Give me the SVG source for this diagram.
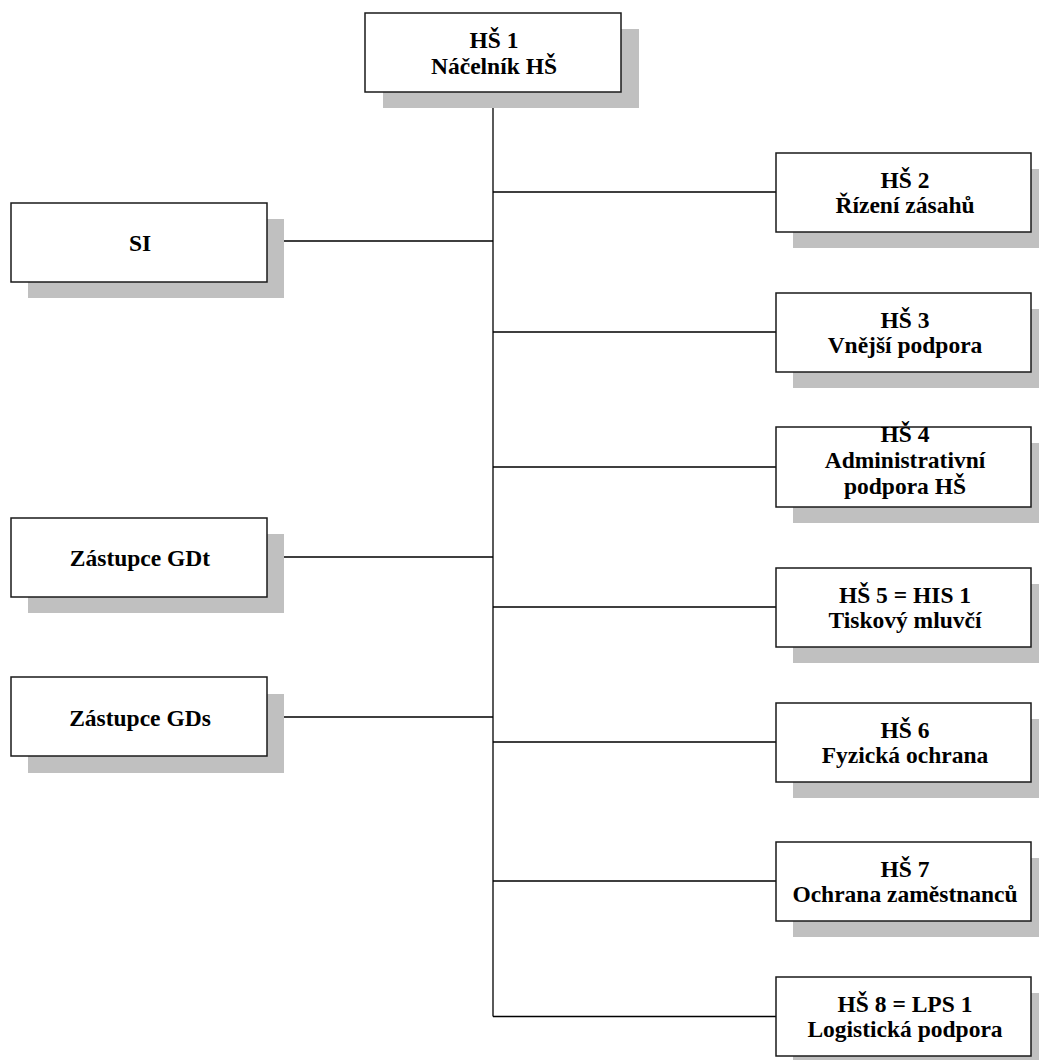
<svg xmlns="http://www.w3.org/2000/svg" width="1039" height="1060" viewBox="0 0 1039 1060">
<style>
.sh{fill:#c0c0c0;stroke:none}
.bx{fill:#fff;stroke:#1a1a1a;stroke-width:1.5}
.cn{stroke:#000;stroke-width:1.3;fill:none}
text{font-family:"Liberation Serif","Times New Roman",serif;font-weight:bold;font-size:23.5px;fill:#000;text-anchor:middle}
</style>
<rect width="1039" height="1060" fill="#fff"/>
<g id="connectors">
<path class="cn" d="M493,92V1016.5"/>
<path class="cn" d="M493,192H776M493,332H776M493,467H776M493,607H776M493,742H776M493,881H776M493,1016.5H776"/>
<path class="cn" d="M267,241H493M267,557H493M267,717H493"/>
</g>
<g id="hs1">
<rect class="sh" x="383" y="29" width="256" height="79"/>
<rect class="bx" x="365" y="13" width="256" height="79"/>
<text x="494" y="48">HŠ 1</text><text x="494" y="74">Náčelník HŠ</text>
</g>
<g id="si">
<rect class="sh" x="28" y="219" width="256" height="79"/>
<rect class="bx" x="11" y="203" width="256" height="79"/>
<text x="140" y="251">SI</text>
</g>
<g id="gdt">
<rect class="sh" x="28" y="534" width="256" height="79"/>
<rect class="bx" x="11" y="518" width="256" height="79"/>
<text x="140" y="566">Zástupce GDt</text>
</g>
<g id="gds">
<rect class="sh" x="28" y="694" width="256" height="79"/>
<rect class="bx" x="11" y="677" width="256" height="79"/>
<text x="140" y="726">Zástupce GDs</text>
</g>
<g id="hs2">
<rect class="sh" x="793" y="169" width="256" height="79"/>
<rect class="bx" x="776" y="153" width="255" height="79"/>
<text x="905" y="188">HŠ 2</text><text x="905" y="213">Řízení zásahů</text>
</g>
<g id="hs3">
<rect class="sh" x="793" y="309" width="256" height="79"/>
<rect class="bx" x="776" y="293" width="255" height="79"/>
<text x="905" y="328">HŠ 3</text><text x="905" y="353">Vnější podpora</text>
</g>
<g id="hs4">
<rect class="sh" x="793" y="443" width="256" height="80"/>
<rect class="bx" x="776" y="427" width="255" height="80"/>
<text x="905" y="442">HŠ 4</text><text x="905" y="468">Administrativní</text><text x="905" y="494">podpora HŠ</text>
</g>
<g id="hs5">
<rect class="sh" x="793" y="584" width="256" height="79"/>
<rect class="bx" x="776" y="568" width="255" height="79"/>
<text x="905" y="603">HŠ 5 = HIS 1</text><text x="905" y="628">Tiskový mluvčí</text>
</g>
<g id="hs6">
<rect class="sh" x="793" y="719" width="256" height="79"/>
<rect class="bx" x="776" y="703" width="255" height="79"/>
<text x="905" y="738">HŠ 6</text><text x="905" y="763">Fyzická ochrana</text>
</g>
<g id="hs7">
<rect class="sh" x="793" y="858" width="256" height="79"/>
<rect class="bx" x="776" y="842" width="255" height="79"/>
<text x="905" y="877">HŠ 7</text><text x="905" y="902">Ochrana zaměstnanců</text>
</g>
<g id="hs8">
<rect class="sh" x="793" y="993" width="256" height="79"/>
<rect class="bx" x="776" y="977" width="255" height="79"/>
<text x="905" y="1012">HŠ 8 = LPS 1</text><text x="905" y="1037">Logistická podpora</text>
</g>
</svg>
